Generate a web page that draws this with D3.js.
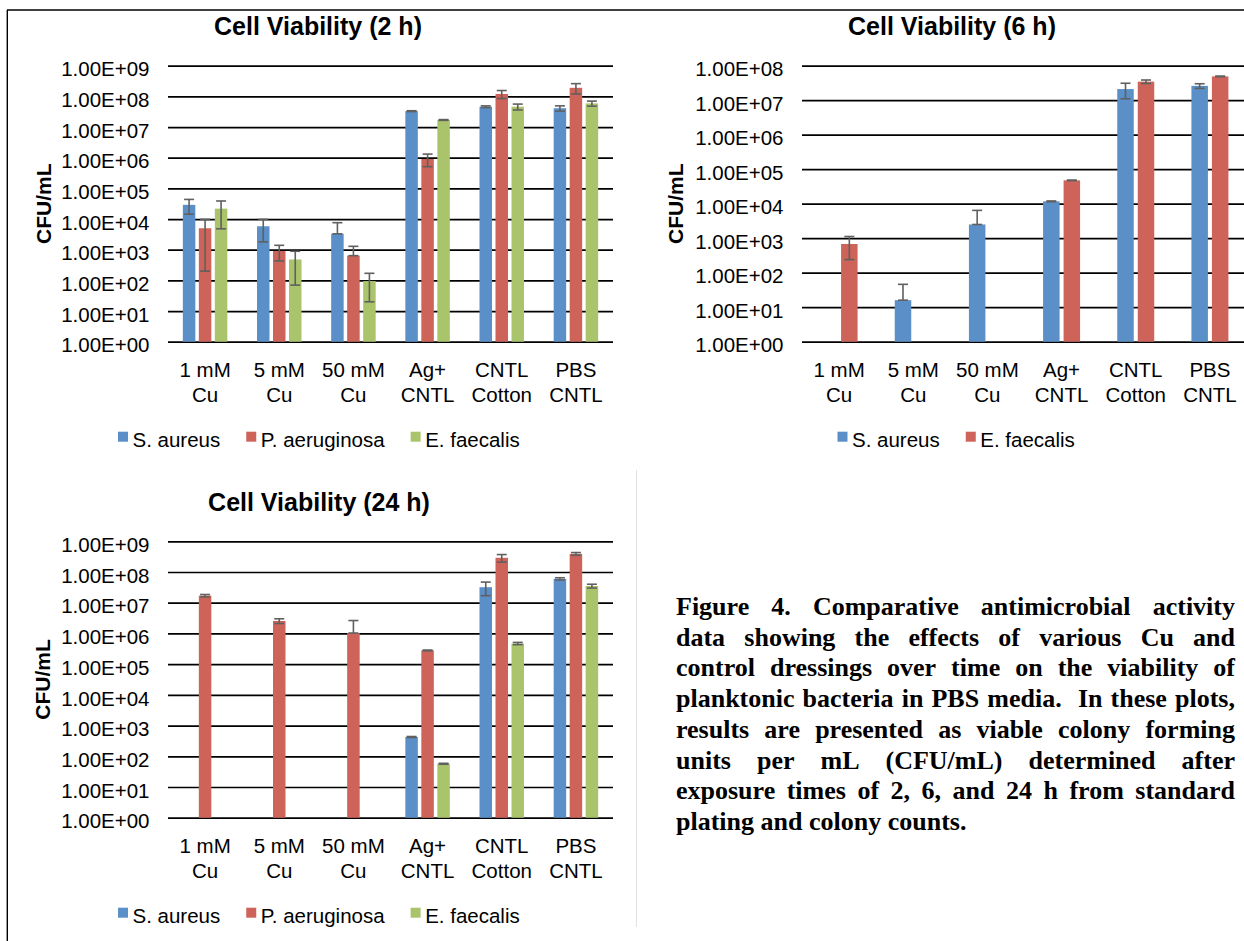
<!DOCTYPE html>
<html><head><meta charset="utf-8">
<script src="https://cdn.jsdelivr.net/npm/d3@7"></script>
<style>body{margin:0;background:#fff} svg{display:block}</style>
</head><body>
<svg id="c" width="1244" height="941"></svg>
<script>
// ---------- DATA ----------
const categories = [["1 mM","Cu"],["5 mM","Cu"],["50 mM","Cu"],["Ag+","CNTL"],["CNTL","Cotton"],["PBS","CNTL"]];

const ticks9 = [1,10,100,1e3,1e4,1e5,1e6,1e7,1e8,1e9];
const tickLabels9 = ["1.00E+00","1.00E+01","1.00E+02","1.00E+03","1.00E+04","1.00E+05","1.00E+06","1.00E+07","1.00E+08","1.00E+09"];
const ticks8 = [1,10,100,1e3,1e4,1e5,1e6,1e7,1e8];
const tickLabels8 = ["1.00E+00","1.00E+01","1.00E+02","1.00E+03","1.00E+04","1.00E+05","1.00E+06","1.00E+07","1.00E+08"];

// 2 h
const names2h = ["S. aureus","P. aeruginosa","E. faecalis"];
const sAureus2h       = [29000, 5800, 3300, 3.3e7, 4.6e7, 4.1e7];
const sAureus2hErr    = [14600, 4000, 4300, 1.0e6, 3e6, 8e6];
const pAeruginosa2h   = [5000, 910, 640, 9.1e5, 1.2e8, 1.9e8];
const pAeruginosa2hErr= [4800, 480, 650, 4e5, 3.5e7, 7e7];
const eFaecalis2h     = [21800, 480, 95, 1.7e7, 4.6e7, 5.9e7];
const eFaecalis2hErr  = [17000, 410, 75, 5e5, 1e7, 1.1e7];

// 6 h
const names6h = ["S. aureus","E. faecalis"];
const sAureus6h       = [null, 16, 2500, 11700, 2.1e7, 2.6e7];
const sAureus6hErr    = [null, 30, 3900, 300, 1e7, 4e6];
const eFaecalis6h     = [680, null, null, 47500, 3.45e7, 4.9e7];
const eFaecalis6hErr  = [440, null, null, 800, 4e6, 1e6];

// 24 h
const names24h = ["S. aureus","P. aeruginosa","E. faecalis"];
const sAureus24h       = [null, null, null, 425, 3.2e7, 6.0e7];
const sAureus24hErr    = [null, null, null, 15, 1.5e7, 5e6];
const pAeruginosa24h   = [1.7e7, 2.55e6, 1.03e6, 2.8e5, 2.9e8, 3.9e8];
const pAeruginosa24hErr= [1.5e6, 4.5e5, 1.6e6, 8e3, 8e7, 4e7];
const eFaecalis24h     = [null, null, null, 57, 4.7e5, 3.5e7];
const eFaecalis24hErr  = [null, null, null, 2, 4e4, 5e6];

const captionLines = [
  "Figure 4. Comparative antimicrobial activity",
  "data showing the effects of various Cu and",
  "control dressings over time on the viability of",
  "planktonic bacteria in PBS media.  In these plots,",
  "results are presented as viable colony forming",
  "units per mL (CFU/mL) determined after",
  "exposure times of 2, 6, and 24 h from standard",
  "plating and colony counts."
];

// ---------- STYLE ----------
const SANS = "'Liberation Sans', Arial, sans-serif";
const SERIF = "'Liberation Serif', 'Times New Roman', serif";
const COLORS = ["#5b8fc8", "#cd6359", "#aac46b"];
const COLORS6 = ["#5b8fc8", "#cd6359"];

const svg = d3.select("#c");

// frame lines
svg.append("line").attr("x1",7).attr("x2",1244).attr("y1",10).attr("y2",10).attr("stroke","#000").attr("stroke-width",1.4);
svg.append("line").attr("x1",7.3).attr("x2",7.3).attr("y1",10).attr("y2",941).attr("stroke","#000").attr("stroke-width",1.4);
svg.append("line").attr("x1",636.5).attr("x2",636.5).attr("y1",470).attr("y2",927).attr("stroke","#e2e2e2").attr("stroke-width",1);

function drawChart(o){
  const g = svg.append("g");
  const y = d3.scaleLog().domain([1, o.ticks[o.ticks.length-1]]).range([o.yBottom, o.yTop]);
  const x = d3.scaleBand().domain(d3.range(categories.length)).range([o.x0, o.x1]);
  const xi = d3.scaleBand().domain(d3.range(o.series.length)).range([-o.groupW/2, o.groupW/2]).paddingInner(o.innerPad);

  const axis = d3.axisLeft(y).tickValues(o.ticks).tickFormat((d,i)=>o.tickLabels[i])
    .tickSize(-(o.x1-o.x0)).tickPadding(o.x0 - o.labelRight);
  const ag = g.append("g").attr("transform",`translate(${o.x0},0)`).call(axis);
  ag.select(".domain").remove();
  ag.selectAll(".tick line").attr("stroke","#000").attr("stroke-width",1.7);
  ag.selectAll(".tick text").attr("font-family",SANS).attr("font-size",20.5).attr("fill","#000").attr("dy","0.5em");

  // bars
  o.series.forEach((s,si)=>{
    const data = s.values.map((v,i)=>({v, e:s.err[i], i})).filter(d=>d.v!=null);
    g.selectAll(null).data(data).enter().append("rect")
      .attr("x", d=>x(d.i)+x.bandwidth()/2+xi(si))
      .attr("width", xi.bandwidth())
      .attr("y", d=>y(d.v))
      .attr("height", d=>y(1)-y(d.v))
      .attr("fill", o.colors[si]);
  });
  // error bars
  o.series.forEach((s,si)=>{
    const data = s.values.map((v,i)=>({v, e:s.err[i], i})).filter(d=>d.v!=null && d.e!=null);
    data.forEach(d=>{
      const cx = x(d.i)+x.bandwidth()/2+xi(si)+xi.bandwidth()/2;
      const up = d.v + d.e;
      const lo = d.v - d.e > 0 ? d.v - d.e : d.v;
      const eg = g.append("g").attr("stroke","#606060").attr("stroke-width",1.6);
      eg.append("line").attr("x1",cx).attr("x2",cx).attr("y1",y(lo)).attr("y2",y(up));
      eg.append("line").attr("x1",cx-5).attr("x2",cx+5).attr("y1",y(up)).attr("y2",y(up));
      eg.append("line").attr("x1",cx-5).attr("x2",cx+5).attr("y1",y(lo)).attr("y2",y(lo));
    });
  });

  // category labels
  categories.forEach((c,i)=>{
    const t = g.append("text").attr("font-family",SANS).attr("font-size",20.5).attr("text-anchor","middle").attr("fill","#000");
    t.append("tspan").attr("x", x(i)+x.bandwidth()/2).attr("y", o.catY).text(c[0]);
    t.append("tspan").attr("x", x(i)+x.bandwidth()/2).attr("y", o.catY+25).text(c[1]);
  });

  // title
  g.append("text").attr("x",o.titleX).attr("y",o.titleY).attr("text-anchor","middle")
    .attr("font-family",SANS).attr("font-weight","bold").attr("font-size",25).text(o.title);

  // y label
  g.append("text").attr("transform",`translate(${o.yLabX},${(o.yTop+o.yBottom)/2}) rotate(-90)`)
    .attr("text-anchor","middle").attr("font-family",SANS).attr("font-weight","bold").attr("font-size",21).text("CFU/mL");

  // legend
  let lx = o.legX;
  o.series.forEach((s,si)=>{
    g.append("rect").attr("x",lx).attr("y",o.legY-15).attr("width",10).attr("height",10).attr("fill",o.colors[si]);
    const t = g.append("text").attr("x",lx+14.5).attr("y",o.legY).attr("font-family",SANS).attr("font-size",20.5).text(s.name);
    lx += 14.5 + t.node().getComputedTextLength() + 26;
  });
}

drawChart({
  title:"Cell Viability (2 h)", titleX:318, titleY:35,
  ticks:ticks9, tickLabels:tickLabels9, yTop:65.7, yBottom:341.7,
  x0:168, x1:613, labelRight:149.5, groupW:44.5, innerPad:0.21875,
  colors:COLORS, catY:376.7, yLabX:51, legX:118, legY:446.7,
  series:[
    {name:names2h[0], values:sAureus2h, err:sAureus2hErr},
    {name:names2h[1], values:pAeruginosa2h, err:pAeruginosa2hErr},
    {name:names2h[2], values:eFaecalis2h, err:eFaecalis2hErr}
  ]
});

drawChart({
  title:"Cell Viability (6 h)", titleX:952, titleY:35,
  ticks:ticks8, tickLabels:tickLabels8, yTop:65.7, yBottom:341.7,
  x0:802, x1:1247, labelRight:783.5, groupW:37, innerPad:0.195,
  colors:COLORS6, catY:376.7, yLabX:683, legX:837.5, legY:446.7,
  series:[
    {name:names6h[0], values:sAureus6h, err:sAureus6hErr},
    {name:names6h[1], values:eFaecalis6h, err:eFaecalis6hErr}
  ]
});

drawChart({
  title:"Cell Viability (24 h)", titleX:319, titleY:511,
  ticks:ticks9, tickLabels:tickLabels9, yTop:541.3, yBottom:817.7,
  x0:168, x1:613, labelRight:149.5, groupW:44.5, innerPad:0.21875,
  colors:COLORS, catY:852.7, yLabX:50, legX:118, legY:922.7,
  series:[
    {name:names24h[0], values:sAureus24h, err:sAureus24hErr},
    {name:names24h[1], values:pAeruginosa24h, err:pAeruginosa24hErr},
    {name:names24h[2], values:eFaecalis24h, err:eFaecalis24hErr}
  ]
});

// caption (justified)
const capX0 = 676, capX1 = 1235, capY0 = 615, capLH = 30.7, capFS = 26;
const cg = svg.append("g").attr("font-family",SERIF).attr("font-weight","bold").attr("font-size",capFS).attr("fill","#000");
captionLines.forEach((line,li)=>{
  const yy = capY0 + li*capLH;
  if (li === captionLines.length-1){
    cg.append("text").attr("x",capX0).attr("y",yy).text(line);
    return;
  }
  const words = line.split(" ");
  const nodes = words.map(w=>cg.append("text").attr("y",yy).text(w));
  const widths = nodes.map(n=>n.node().getComputedTextLength());
  const gap = (capX1 - capX0 - d3.sum(widths)) / (words.length-1);
  let cx = capX0;
  nodes.forEach((n,i)=>{ n.attr("x",cx); cx += widths[i] + gap; });
});
</script>
</body></html>
